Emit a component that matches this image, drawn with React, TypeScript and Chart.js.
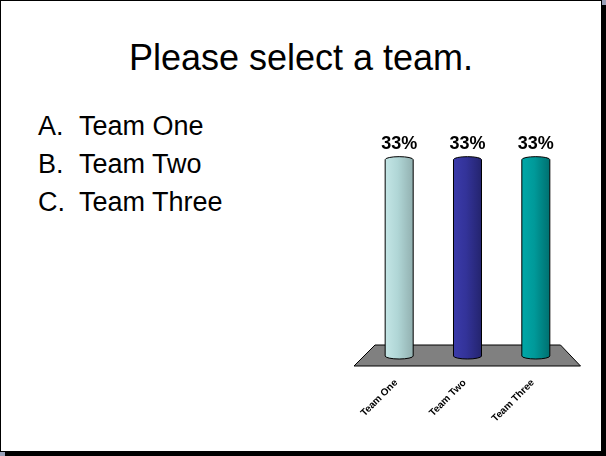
import React, { useEffect, useRef } from "react";
import { Chart, registerables } from "chart.js";

Chart.register(...registerables);

const titleText = "Please select a team.";
const optionLetters = ["A.", "B.", "C."];
const categories = ["Team One", "Team Two", "Team Three"];
const values = [33, 33, 33];
const valueLabels = ["33%", "33%", "33%"];

const FONT = "'Liberation Sans', Arial, sans-serif";
const barShades = [
  ["#c4e6e6", "#b0d6d6", "#92b0b0"],
  ["#3b3baa", "#333399", "#24246e"],
  ["#00a8a8", "#009999", "#007070"],
];

const cylinderPlugin = {
  id: "cylinders",
  beforeDatasetsDraw(chart: any) {
    const { ctx, chartArea: a } = chart;
    ctx.save();
    ctx.beginPath();
    ctx.moveTo(a.left + 10, a.bottom - 11);
    ctx.lineTo(a.right - 9.5, a.bottom - 11);
    ctx.lineTo(a.right + 10.5, a.bottom + 10);
    ctx.lineTo(a.left - 11, a.bottom + 10);
    ctx.closePath();
    ctx.fillStyle = "#808080";
    ctx.fill();
    ctx.strokeStyle = "#000";
    ctx.lineWidth = 1;
    ctx.stroke();
    ctx.restore();
  },
  afterDatasetsDraw(chart: any) {
    const { ctx } = chart;
    const meta = chart.getDatasetMeta(0);
    meta.data.forEach((bar: any, i: number) => {
      const { x, y, base, width } = bar.getProps(["x", "y", "base", "width"], true);
      const l = x - width / 2;
      const r = x + width / 2;
      const rx = width / 2;
      const ry = 3;
      const shades = barShades[i % barShades.length];
      const g = ctx.createLinearGradient(l, 0, r, 0);
      g.addColorStop(0, shades[0]);
      g.addColorStop(0.45, shades[1]);
      g.addColorStop(1, shades[2]);
      ctx.save();
      ctx.beginPath();
      ctx.moveTo(l, y);
      ctx.lineTo(l, base);
      ctx.ellipse(x, base, rx, ry, 0, Math.PI, 0, true);
      ctx.lineTo(r, y);
      ctx.ellipse(x, y, rx, ry, 0, 0, Math.PI, true);
      ctx.closePath();
      ctx.fillStyle = g;
      ctx.fill();
      ctx.strokeStyle = "#000";
      ctx.lineWidth = 1;
      ctx.stroke();
      ctx.fillStyle = "#000";
      ctx.font = `bold 18px ${FONT}`;
      ctx.textAlign = "center";
      ctx.textBaseline = "alphabetic";
      ctx.fillText(valueLabels[i], x, y - 10.5);
      ctx.restore();
    });
  },
};

function BarChart() {
  const ref = useRef<HTMLCanvasElement | null>(null);
  useEffect(() => {
    if (!ref.current) return;
    const chart = new Chart(ref.current, {
      type: "bar",
      data: {
        labels: categories,
        datasets: [
          {
            data: values,
            backgroundColor: "rgba(0,0,0,0)",
            borderWidth: 0,
            barPercentage: 0.41,
            categoryPercentage: 1,
          },
        ],
      },
      options: {
        animation: false,
        responsive: false,
        maintainAspectRatio: false,
        layout: { padding: { left: 35, right: 30, top: 18, bottom: 0 } },
        plugins: {
          legend: { display: false },
          tooltip: { enabled: false },
          title: { display: false },
        },
        scales: {
          x: {
            grid: { display: false, drawTicks: false },
            border: { display: false },
            ticks: {
              minRotation: 45,
              maxRotation: 45,
              color: "#000",
              padding: 21,
              labelOffset: -3,
              font: { family: FONT, size: 10, weight: "bold" },
            },
            afterFit: (s: any) => {
              s.height = 84;
              s.paddingLeft = 0;
              s.paddingRight = 0;
            },
          },
          y: { display: false, min: 0, max: 40 },
        },
      },
      plugins: [cylinderPlugin],
    } as any);
    return () => chart.destroy();
  }, []);
  return (
    <canvas
      ref={ref}
      width={270}
      height={340}
      style={{ position: "absolute", left: 330, top: 100, width: 270, height: 340 }}
    />
  );
}

export default function App() {
  return (
    <div
      style={{
        position: "fixed",
        left: 0,
        top: 0,
        width: 606,
        height: 456,
        background: "#98a0b8",
        overflow: "hidden",
        fontFamily: FONT,
      }}
    >
      <div style={{ position: "absolute", left: 5, top: 5, width: 601, height: 451, background: "#000" }} />
      <div
        style={{
          position: "absolute",
          left: 0,
          top: 0,
          width: 600,
          height: 450,
          background: "#fff",
          border: "1px solid #000",
        }}
      />
      <div
        style={{
          position: "absolute",
          left: 0,
          top: 40,
          width: 602,
          textAlign: "center",
          fontSize: 36,
          lineHeight: "36px",
          color: "#000",
          whiteSpace: "nowrap",
        }}
      >
        {titleText}
      </div>
      <div
        style={{
          position: "absolute",
          left: 38,
          top: 107,
          fontSize: 27,
          lineHeight: "38px",
          color: "#000",
          whiteSpace: "nowrap",
        }}
      >
        {categories.map((c, i) => (
          <div key={c}>
            <span style={{ display: "inline-block", width: 41 }}>{optionLetters[i]}</span>
            {c}
          </div>
        ))}
      </div>
      <BarChart />
    </div>
  );
}
